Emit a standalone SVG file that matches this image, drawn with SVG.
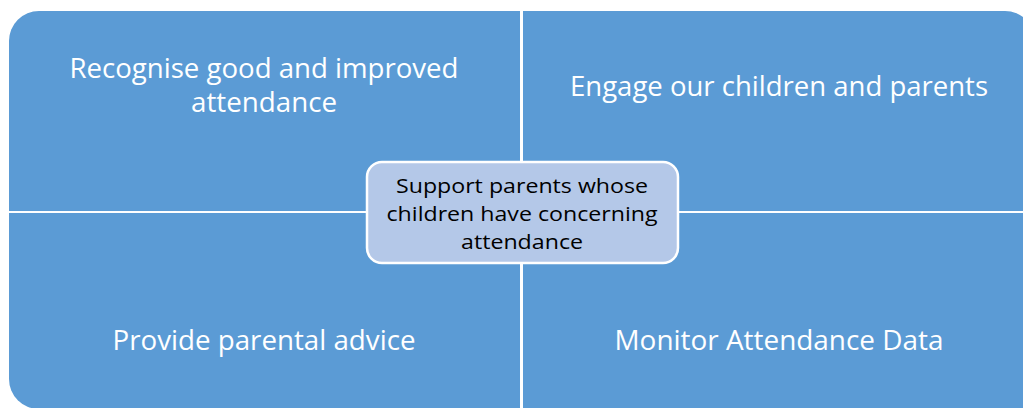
<svg xmlns="http://www.w3.org/2000/svg" width="1023" height="408" viewBox="0 0 1023 408">
<style>
.q{fill:#5B9BD5}
.qt{font-family:"Open Sans","Liberation Sans",sans-serif;font-size:27px;fill:#FFFFFF;text-anchor:middle}
.ct{font-family:"Open Sans","Liberation Sans",sans-serif;font-size:20.5px;fill:#000000;text-anchor:middle}
</style>
<rect width="1023" height="408" fill="#FFFFFF"/>
<g id="node-recognise">
<path class="q" d="M9,211 V41 A30,30 0 0 1 39,11 H520 V211 Z"/>
<text class="qt" x="264" y="78" textLength="389" lengthAdjust="spacingAndGlyphs">Recognise good and improved</text>
<text class="qt" x="264" y="112" textLength="146" lengthAdjust="spacingAndGlyphs">attendance</text>
</g>
<g id="node-engage">
<path class="q" d="M523,11 H1005 A30,30 0 0 1 1035,41 V211 H523 Z"/>
<text class="qt" x="779" y="96" textLength="418" lengthAdjust="spacingAndGlyphs">Engage our children and parents</text>
</g>
<g id="node-advice">
<path class="q" d="M9,213 H520 V409 H39 A30,30 0 0 1 9,379 Z"/>
<text class="qt" x="264" y="350" textLength="303" lengthAdjust="spacingAndGlyphs">Provide parental advice</text>
</g>
<g id="node-monitor">
<path class="q" d="M523,213 H1035 V420 H523 Z"/>
<text class="qt" x="779" y="350" textLength="329" lengthAdjust="spacingAndGlyphs">Monitor Attendance Data</text>
</g>
<g id="connectors"></g>
<g id="node-support">
<rect x="367" y="162" width="311" height="101" rx="15" ry="15" fill="#B4C8E8" stroke="#FFFFFF" stroke-width="2.5"/>
<text class="ct" x="522" y="193" textLength="252" lengthAdjust="spacingAndGlyphs">Support parents whose</text>
<text class="ct" x="522" y="221" textLength="271" lengthAdjust="spacingAndGlyphs">children have concerning</text>
<text class="ct" x="522" y="249" textLength="122" lengthAdjust="spacingAndGlyphs">attendance</text>
</g>
</svg>
